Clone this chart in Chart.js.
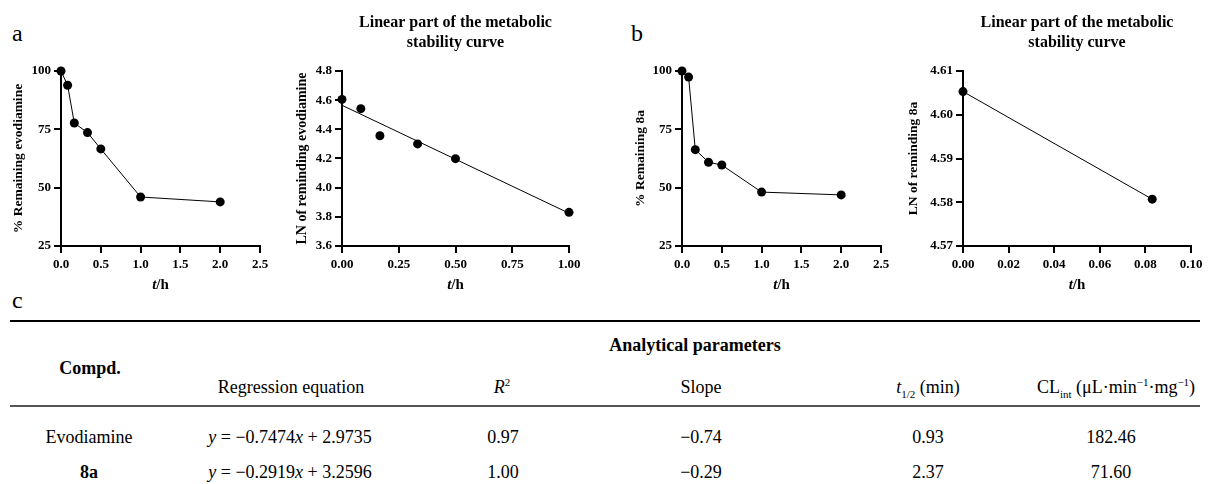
<!DOCTYPE html>
<html>
<head>
<meta charset="utf-8">
<script src="https://cdn.jsdelivr.net/npm/chart.js@4.4.1/dist/chart.umd.min.js"></script>
<style>
    html, body { margin: 0; padding: 0; background: #fff; }
    #page { position: relative; width: 1210px; height: 484px; overflow: hidden;
            font-family: "Liberation Serif", "Times New Roman", serif; color: #000; }
    .panel { position: absolute; top: 0; height: 300px; }
    .tag { position: absolute; font-size: 24px; line-height: 24px; }
    .cell { position: absolute; font-size: 18px; line-height: 18px; white-space: nowrap;
            transform: translate(-50%, -50%); }
    .cell.b { font-weight: bold; }
    .rule { position: absolute; left: 10px; width: 1190px; }
    sub, sup { font-size: 11px; line-height: 0; }
</style>
</head>
<body>
<div id="page">
    <div class="tag" style="left:12px; top:21px;">a</div>
    <div class="tag" style="left:631px; top:21px;">b</div>
    <div class="tag" style="left:12px; top:288px;">c</div>

    <div class="panel" style="left:0; width:300px;"><canvas id="evo-remain"></canvas></div>
    <div class="panel" style="left:280px; width:330px;"><canvas id="evo-linear"></canvas></div>
    <div class="panel" style="left:620px; width:300px;"><canvas id="a8-remain"></canvas></div>
    <div class="panel" style="left:900px; width:310px;"><canvas id="a8-linear"></canvas></div>

    <div class="rule" style="top:320px; height:2px; background:#000;"></div>
    <div class="rule" style="top:405px; height:2px; background:#555;"></div>
    <div id="table"></div>
</div>

<script>
// ---- data ----
const sampleTimes = [0, 0.083, 0.167, 0.333, 0.5, 1, 2];
const remainEvo = [100, 93.9, 77.7, 73.6, 66.6, 46.0, 43.9];
const remain8a = [100, 97.4, 66.3, 60.9, 59.7, 48.1, 46.9];

const linTimesEvo = [0, 0.083, 0.167, 0.333, 0.5, 1];
const lnEvo = [4.605, 4.542, 4.356, 4.300, 4.199, 3.831];
const fitTimesEvo = [0, 1];
const fitLnEvo = [4.565, 3.825];

const linTimes8a = [0, 0.083];
const ln8a = [4.6053, 4.5807];

// ---- tick values and labels ----
const pctTicks = [25, 50, 75, 100];
const pctLabels = ['25', '50', '75', '100'];
const hourTicks = [0, 0.5, 1, 1.5, 2, 2.5];
const hourLabels = ['0.0', '0.5', '1.0', '1.5', '2.0', '2.5'];
const lnEvoTicks = [3.6, 3.8, 4.0, 4.2, 4.4, 4.6, 4.8];
const lnEvoLabels = ['3.6', '3.8', '4.0', '4.2', '4.4', '4.6', '4.8'];
const linHourTicks = [0, 0.25, 0.5, 0.75, 1];
const linHourLabels = ['0.00', '0.25', '0.50', '0.75', '1.00'];
const ln8aTicks = [4.57, 4.58, 4.59, 4.60, 4.61];
const ln8aLabels = ['4.57', '4.58', '4.59', '4.60', '4.61'];
const shortHourTicks = [0, 0.02, 0.04, 0.06, 0.08, 0.10];
const shortHourLabels = ['0.00', '0.02', '0.04', '0.06', '0.08', '0.10'];

const panelTitle = ['Linear part of the metabolic', 'stability curve'];

// ---- table ----
const compounds = ['Evodiamine', '8a'];
const equations = ['<i>y</i> = \u22120.7474<i>x</i> + 2.9735', '<i>y</i> = \u22120.2919<i>x</i> + 3.2596'];
const rSquared = ['0.97', '1.00'];
const slopes = ['\u22120.74', '\u22120.29'];
const halfLives = ['0.93', '2.37'];
const clearances = ['182.46', '71.60'];

const SERIF = '"Liberation Serif", "Times New Roman", serif';

// x-axis title "t/h" with an italic t
const hourTitle = {
    id: 'hourTitle',
    afterDraw(chart) {
        const { ctx, chartArea, scales } = chart;
        const cx = (chartArea.left + chartArea.right) / 2;
        const cy = scales.x.bottom - 11;
        const fi = 'italic bold 15px "Liberation Serif"';
        const fr = 'bold 15px "Liberation Serif"';
        ctx.save();
        ctx.fillStyle = '#000';
        ctx.textBaseline = 'middle';
        ctx.textAlign = 'left';
        ctx.font = fi;
        const w1 = ctx.measureText('t').width;
        ctx.font = fr;
        const w2 = ctx.measureText('/h').width;
        const x0 = cx - (w1 + w2) / 2;
        ctx.font = fi;
        ctx.fillText('t', x0, cy);
        ctx.font = fr;
        ctx.fillText('/h', x0 + w1, cy);
        ctx.restore();
    }
};

function axis(pos, min, max, ticks, labels, size, title) {
    return {
        type: 'linear',
        position: pos,
        min: min,
        max: max,
        afterBuildTicks: s => { s.ticks = ticks.map(v => ({ value: v })); },
        afterFit: s => { if (pos === 'left') s.width = size; else s.height = size; },
        ticks: {
            callback: (v, i) => labels[i],
            color: '#000',
            font: { family: SERIF, weight: 'bold', size: 13 },
            padding: pos === 'left' ? 3 : 4,
            autoSkip: false,
            maxRotation: 0
        },
        grid: { display: true, drawOnChartArea: false, drawTicks: true, tickLength: 7, color: '#000', lineWidth: 2 },
        border: { display: true, color: '#000', width: 2 },
        title: title ? {
            display: true,
            text: title.text,
            color: '#000',
            font: { family: SERIF, weight: 'bold', size: title.size, lineHeight: 1.2 },
            padding: { top: title.pad, bottom: 0 }
        } : { display: false }
    };
}

function series(xs, ys, line, radius) {
    return {
        data: xs.map((x, i) => ({ x: x, y: ys[i] })),
        showLine: line,
        borderColor: '#000',
        borderWidth: 1,
        pointRadius: radius,
        pointBackgroundColor: '#000',
        pointBorderColor: '#000',
        pointBorderWidth: 0,
        clip: false
    };
}

function makePanel(id, o) {
    return new Chart(document.getElementById(id), {
        type: 'scatter',
        data: { datasets: o.datasets },
        options: {
            responsive: true,
            maintainAspectRatio: false,
            animation: false,
            layout: { padding: o.padding },
            plugins: {
                legend: { display: false },
                tooltip: { enabled: false },
                title: o.title ? {
                    display: true,
                    text: o.title,
                    fullSize: false,
                    color: '#000',
                    font: { family: SERIF, weight: 'bold', size: 16, lineHeight: 1.25 },
                    padding: { top: 13, bottom: 18 }
                } : { display: false }
            },
            scales: { x: o.x, y: o.y }
        },
        plugins: [hourTitle]
    });
}

makePanel('evo-remain', {
    datasets: [series(sampleTimes, remainEvo, true, 4.5)],
    padding: { top: 71, right: 40, bottom: 4, left: 0 },
    x: axis('bottom', 0, 2.5, hourTicks, hourLabels, 50),
    y: axis('left', 25, 100, pctTicks, pctLabels, 61, { text: '% Remaining evodiamine', size: 13.5, pad: 10 })
});

makePanel('evo-linear', {
    datasets: [series(linTimesEvo, lnEvo, false, 4.5), series(fitTimesEvo, fitLnEvo, true, 0)],
    padding: { top: 0, right: 41, bottom: 4, left: 0 },
    title: panelTitle,
    x: axis('bottom', 0, 1, linHourTicks, linHourLabels, 50),
    y: axis('left', 3.6, 4.8, lnEvoTicks, lnEvoLabels, 62, { text: 'LN of reminding evodiamine', size: 14, pad: 14 })
});

makePanel('a8-remain', {
    datasets: [series(sampleTimes, remain8a, true, 4.5)],
    padding: { top: 71, right: 39, bottom: 4, left: 0 },
    x: axis('bottom', 0, 2.5, hourTicks, hourLabels, 50),
    y: axis('left', 25, 100, pctTicks, pctLabels, 62, { text: '% Remaining 8a', size: 13.5, pad: 12 })
});

makePanel('a8-linear', {
    datasets: [series(linTimes8a, ln8a, true, 4.5)],
    padding: { top: 0, right: 19, bottom: 4, left: 0 },
    title: panelTitle,
    x: axis('bottom', 0, 0.1, shortHourTicks, shortHourLabels, 50),
    y: axis('left', 4.57, 4.61, ln8aTicks, ln8aLabels, 63, { text: 'LN of reminding 8a', size: 13.5, pad: 5 })
});

// table cells
const table = document.getElementById('table');
function cell(html, x, y, bold) {
    const d = document.createElement('div');
    d.className = 'cell' + (bold ? ' b' : '');
    d.style.left = x + 'px';
    d.style.top = y + 'px';
    d.innerHTML = html;
    table.appendChild(d);
}

cell('Compd.', 90, 368, true);
cell('Analytical parameters', 695, 345, true);
cell('Regression equation', 291, 387);
cell('<i>R</i><sup>2</sup>', 502, 387);
cell('Slope', 701, 387);
cell('<i>t</i><sub>1/2</sub> (min)', 928, 387);
cell('CL<sub>int</sub> (\u03bcL\u00b7min<sup>\u22121</sup>\u00b7mg<sup>\u22121</sup>)', 1116, 387);

const rowY = [437, 472];
compounds.forEach((c, i) => {
    cell(c, 89, rowY[i], i === 1);
    cell(equations[i], 290, rowY[i]);
    cell(rSquared[i], 503, rowY[i]);
    cell(slopes[i], 701, rowY[i]);
    cell(halfLives[i], 928, rowY[i]);
    cell(clearances[i], 1111, rowY[i]);
});
</script>
</body>
</html>
